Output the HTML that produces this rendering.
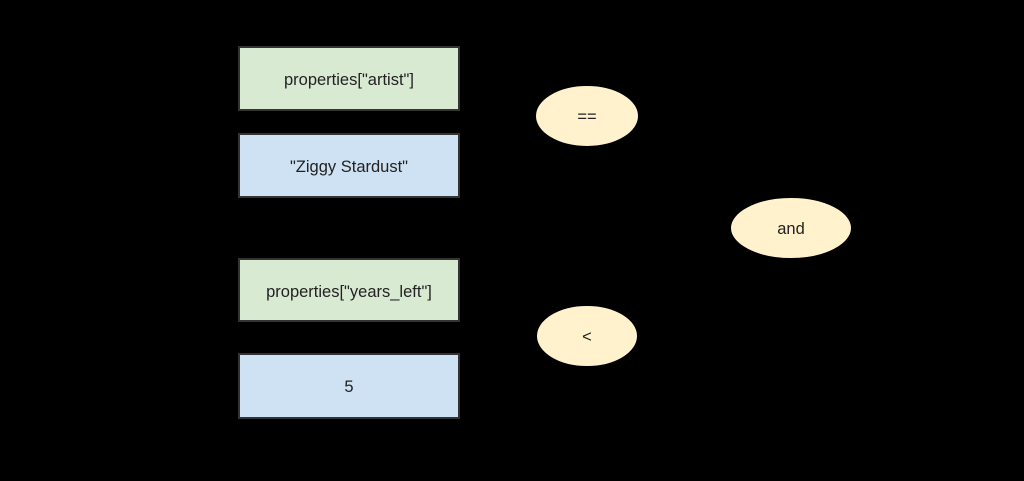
<!DOCTYPE html>
<html><head><meta charset="utf-8"><style>
html,body{margin:0;padding:0;background:#000;}
svg{display:block}
text{font-family:"Liberation Sans",Arial,sans-serif;font-size:16.5px;fill:#222;}
</style></head><body>
<svg width="1024" height="481" viewBox="0 0 1024 481">
<rect width="1024" height="481" fill="#000"/>
<g stroke="#333" stroke-width="2">
<rect x="239" y="47" width="220" height="63" fill="#d9ead3"/>
<rect x="239" y="134" width="220" height="63" fill="#cfe2f3"/>
<rect x="239" y="259" width="220" height="62" fill="#d9ead3"/>
<rect x="239" y="354" width="220" height="64" fill="#cfe2f3"/>
</g>
<g stroke="#000" stroke-width="2" fill="#fff2cc">
<ellipse cx="587" cy="116" rx="52" ry="31"/>
<ellipse cx="587" cy="336" rx="51" ry="31"/>
<ellipse cx="791" cy="228" rx="61" ry="31"/>
</g>
<g text-anchor="middle">
<text x="349" y="85">properties["artist"]</text>
<text x="349" y="172">"Ziggy Stardust"</text>
<text x="349" y="297">properties["years_left"]</text>
<text x="349" y="392">5</text>
<text x="587" y="122">==</text>
<text x="587" y="342">&lt;</text>
<text x="791" y="234">and</text>
</g>
</svg>
</body></html>
